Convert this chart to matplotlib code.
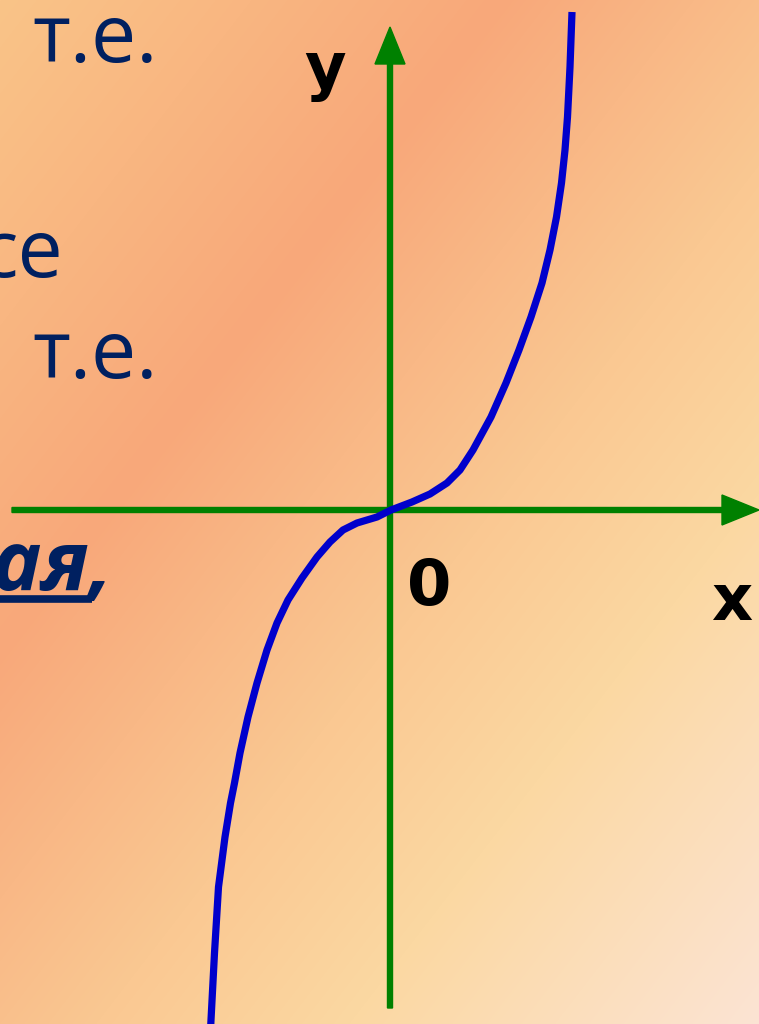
import numpy as np
import matplotlib
matplotlib.use("Agg")
import matplotlib.pyplot as plt

# curve (math units, origin at the axes crossing)
curve_x = [1.82, 1.80, 1.775, 1.75, 1.715, 1.665, 1.60, 1.52, 1.41, 1.29, 1.16, 1.01,
           0.83, 0.70, 0.57, 0.40, 0.22, 0.01, -0.13, -0.33, -0.47, -0.60, -0.73,
           -0.88, -1.02, -1.13, -1.23, -1.33, -1.42, -1.50, -1.555, -1.595, -1.65,
           -1.715, -1.755, -1.79, -1.795]
curve_y = [4.98, 4.43, 3.93, 3.60, 3.27, 2.93, 2.60, 2.27, 1.93, 1.60, 1.27, 0.93,
           0.60, 0.40, 0.27, 0.16, 0.08, 0.00, -0.07, -0.13, -0.20, -0.32, -0.47,
           -0.68, -0.90, -1.13, -1.40, -1.73, -2.07, -2.43, -2.73, -2.93, -3.27,
           -3.77, -4.43, -5.10, -5.20]

# slide fragments
texts = ["т.е.", "се", "т.е."]
text_x = [-3.58, -3.27, -3.58]
text_y = [4.48, 2.33, 1.32]
text_ha = ["left", "right", "left"]

bg_stops = [0, 396, 700, 900, 1225]
bg_colors = np.array([[250, 196, 136], [248, 168, 122], [250, 200, 146],
                      [251, 216, 162], [252, 228, 212]]) / 255.0

navy = "#002060"
green = "#008000"
blue = "#0000CC"

fig = plt.figure(figsize=(7.59, 10.24), dpi=100)
ax = fig.add_axes([0, 0, 1, 1])
ax.set_xlim(-3.90, 3.69)
ax.set_ylim(-5.14, 5.10)
ax.axis("off")

# diagonal background gradient
W, H = 759, 1024
px, py = np.meshgrid(np.arange(W), np.arange(H))
t = 0.79 * px + 0.61 * py
img = np.stack([np.interp(t, bg_stops, bg_colors[:, c]) for c in range(3)], axis=-1)
ax.imshow(img, extent=(-3.90, 3.69, -5.14, 5.10), origin="upper", aspect="auto", zorder=0)

# axes with arrows
ax.arrow(-3.78, 0, 7.47, 0, width=0.05, head_width=0.30, head_length=0.37,
         length_includes_head=True, color=green, zorder=2)
ax.arrow(0, -4.98, 0, 9.81, width=0.05, head_width=0.30, head_length=0.37,
         length_includes_head=True, color=green, zorder=2)

ax.plot(curve_x, curve_y, color=blue, lw=5.2, solid_capstyle="butt",
        solid_joinstyle="round", zorder=3)

for s, x, y, ha in zip(texts, text_x, text_y, text_ha):
    ax.text(x, y, s, ha=ha, va="baseline", color=navy, fontsize=58,
            family="Open Sans", zorder=4)

ax.text(-2.78, -0.80, "ая,", ha="right", va="baseline", color=navy, fontsize=60,
        family="Open Sans", weight="bold", style="italic", zorder=4)
ax.plot([-3.90, -2.98], [-0.89, -0.89], color=navy, lw=5.5, solid_capstyle="butt", zorder=4)

for s, x, y in [("y", -0.65, 4.22), ("0", 0.39, -0.95), ("x", 3.42, -1.10)]:
    ax.text(x, y, s, ha="center", va="baseline", color="black", fontsize=46,
            family="DejaVu Sans", weight="bold", zorder=4)

fig.savefig("out.png", dpi=100)
